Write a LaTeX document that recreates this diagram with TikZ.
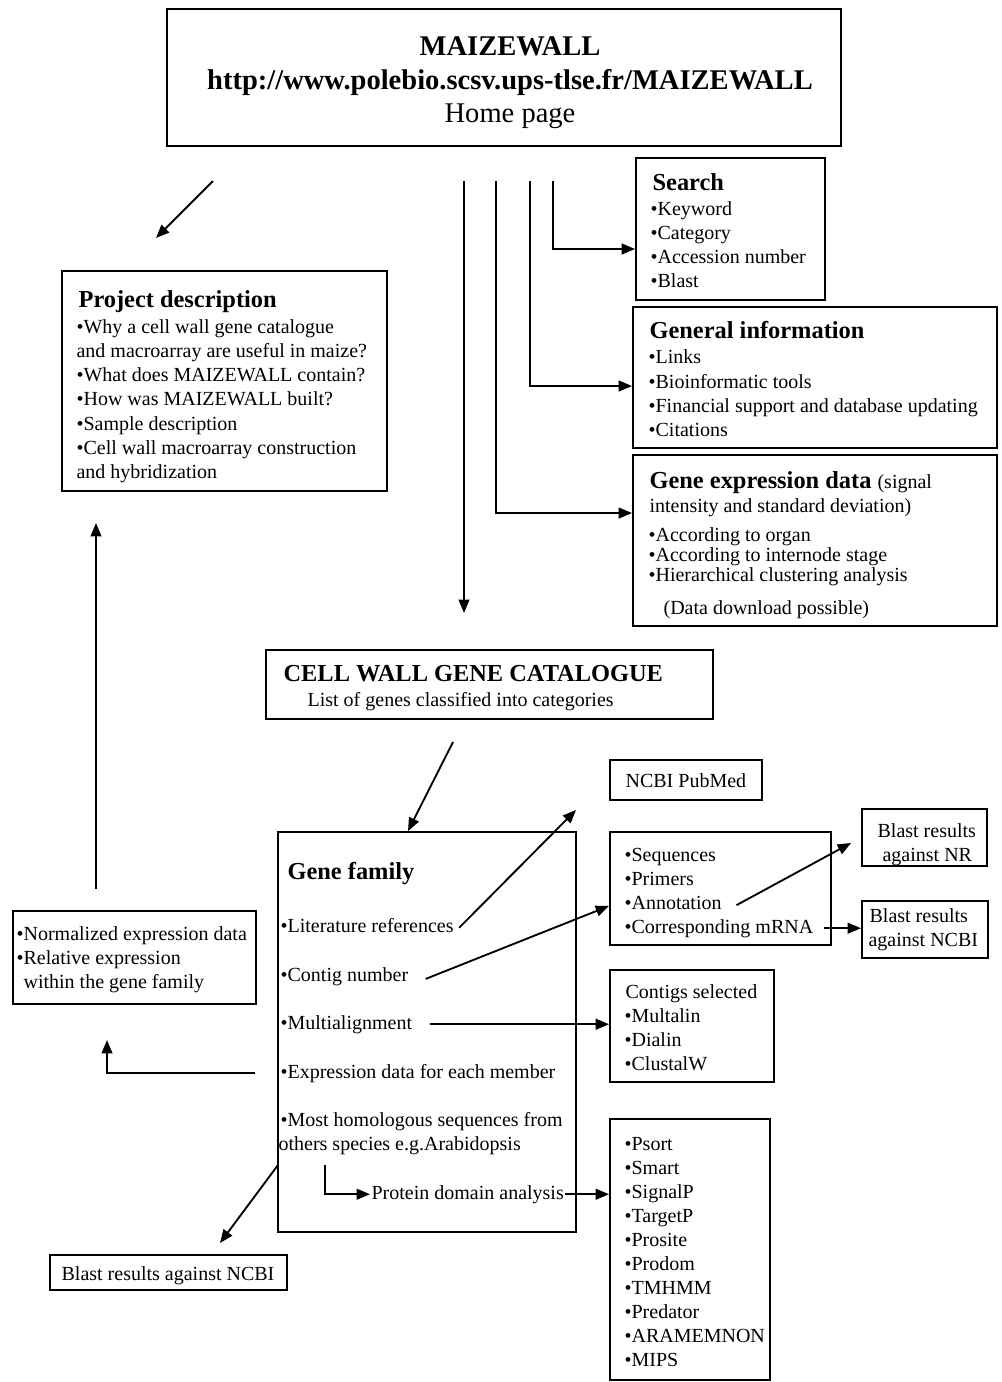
\documentclass[tikz,border=0pt]{standalone}
\usepackage{fontspec}
\setmainfont{Liberation Serif}
\usetikzlibrary{arrows.meta}
\newcommand\mybox[5]{\node[boxst, minimum width={(#4-#2)*0.75pt}, minimum height={(#5-#3)*0.75pt}] (#1) at ({(#2+#4)/2},{(#3+#5)/2}) {};}
\begin{document}
\begin{tikzpicture}[x=0.75pt,y=-0.75pt,
  boxst/.style={draw, line width=1.4pt, inner sep=0pt},
  txt/.style={inner sep=1pt, font=\fontsize{15}{17}\selectfont, anchor=base west},
  hd/.style={inner sep=1pt, font=\fontsize{18.3}{21}\selectfont\bfseries, anchor=base west},
  ttl/.style={inner sep=1pt, font=\fontsize{21.4}{25}\selectfont, anchor=base},
  arr/.style={line width=1.4pt, -{Triangle[length=10pt,width=8pt]}},
  ln/.style={line width=1.4pt}]
\useasboundingbox (0,0) rectangle (1001,1382);
% boxes
\mybox{home}{167}{9}{841}{146}
\mybox{search}{636}{158}{825}{300}
\mybox{geninfo}{633}{307}{997}{448}
\mybox{genexp}{633}{455}{997}{626}
\mybox{projdesc}{62}{271}{387}{491}
\mybox{catal}{266}{650}{713}{719}
\mybox{pubmed}{610}{760}{762}{800}
\mybox{gf}{278}{832}{576}{1232}
\mybox{seqbox}{610}{832}{831}{945}
\mybox{bnr}{862}{809}{987}{866}
\mybox{bncbi}{862}{901}{988}{958}
\mybox{contigs}{610}{970}{774}{1082}
\mybox{psort}{610}{1119}{770}{1380}
\mybox{norm}{13}{911}{256}{1004}
\mybox{bbot}{50}{1255}{287}{1290}
% home text
\node[ttl,font=\fontsize{21.4}{25}\selectfont\bfseries] (t1) at (510,55) {MAIZEWALL};
\node[ttl,font=\fontsize{21.4}{25}\selectfont\bfseries] (t2) at (510,89) {http://www.polebio.scsv.ups-tlse.fr/MAIZEWALL};
\node[ttl] (t3) at (510,122) {Home page};
% search
\node[hd] (srh) at (651,190) {Search};
\node[txt] (s1) at (649,215) {•Keyword};
\node[txt] (s2) at (649,239) {•Category};
\node[txt] (s3) at (649,263) {•Accession number};
\node[txt] (s4) at (649,287) {•Blast};
% general info
\node[hd] (gih) at (648,338) {General information};
\node[txt] (g1) at (647,363) {•Links};
\node[txt] (g2) at (647,388) {•Bioinformatic tools};
\node[txt] (g3) at (647,412) {•Financial support and database updating};
\node[txt] (g4) at (647,436) {•Citations};
% gene expression
\node[hd] (geh) at (648,488) {Gene expression data \fontsize{15}{17}\selectfont\mdseries (signal};
\node[txt] (ge0) at (648,512) {intensity and standard deviation)};
\node[txt, align=left, font=\fontsize{15}{12.75}\selectfont] (ge1) at (647,581) {•According to organ\\•According to internode stage\\•Hierarchical clustering analysis};
\node[txt] (ge4) at (662,614) {(Data download possible)};
% project description
\node[hd] (pdh) at (77,307) {Project description};
\node[txt] (p1) at (75,333) {•Why a cell wall gene catalogue};
\node[txt] (p2) at (75,357) {and macroarray are useful in maize?};
\node[txt] (p3) at (75,381) {•What does MAIZEWALL contain?};
\node[txt] (p4) at (75,405) {•How was MAIZEWALL built?};
\node[txt] (p5) at (75,430) {•Sample description};
\node[txt] (p6) at (75,454) {•Cell wall macroarray construction};
\node[txt] (p7) at (75,478) {and hybridization};
% catalogue
\node[hd] (cah) at (282,681) {CELL WALL GENE CATALOGUE};
\node[txt] (ca1) at (306,706) {List of genes classified into categories};
% pubmed
\node[txt] (pm) at (624,787) {NCBI PubMed};
% gene family
\node[hd] (gfh) at (286,879) {Gene family};
\node[txt] (lit) at (279,932) {•Literature references};
\node[txt] (cont) at (279,981) {•Contig number};
\node[txt] (multi) at (279,1029) {•Multialignment};
\node[txt] (expr) at (279,1078) {•Expression data for each member};
\node[txt] (homo) at (279,1126) {•Most homologous sequences from};
\node[txt] (homo2) at (277,1150) {others species e.g.Arabidopsis};
\node[txt] (pda) at (370,1199) {Protein domain analysis};
% sequences
\node[txt] (q1) at (623,861) {•Sequences};
\node[txt] (q2) at (623,885) {•Primers};
\node[txt] (annot) at (623,909) {•Annotation};
\node[txt] (mrna) at (623,933) {•Corresponding mRNA};
% blast NR
\node[txt] (bn1) at (876,837) {Blast results};
\node[txt] (bn2) at (881,861) {against NR};
% blast NCBI right
\node[txt] (bc1) at (868,922) {Blast results};
\node[txt] (bc2) at (867,946) {against NCBI};
% contigs
\node[txt] (c0) at (624,998) {Contigs selected};
\node[txt] (c1) at (623,1022) {•Multalin};
\node[txt] (c2) at (623,1046) {•Dialin};
\node[txt] (c3) at (623,1070) {•ClustalW};
% psort list
\node[txt] (ps1) at (623,1150) {•Psort};
\node[txt] (ps2) at (623,1174) {•Smart};
\node[txt] (ps3) at (623,1198) {•SignalP};
\node[txt] (ps4) at (623,1222) {•TargetP};
\node[txt] (ps5) at (623,1246) {•Prosite};
\node[txt] (ps6) at (623,1270) {•Prodom};
\node[txt] (ps7) at (623,1294) {•TMHMM};
\node[txt] (ps8) at (623,1318) {•Predator};
\node[txt] (ps9) at (623,1342) {•ARAMEMNON};
\node[txt] (ps10) at (623,1366) {•MIPS};
% normalized
\node[txt] (n1) at (15,940) {•Normalized expression data};
\node[txt] (n2) at (15,964) {•Relative expression};
\node[txt] (n3) at (22,988) {within the gene family};
% blast bottom
\node[txt] (bb) at (60,1280) {Blast results against NCBI};
% free-end coordinates
\coordinate (a0) at (213,181);
\coordinate (a0e) at (156,238);
\coordinate (v1) at (464,181);
\coordinate (v1e) at (464,613);
\coordinate (v2) at (496,181);
\coordinate (v3) at (530,181);
\coordinate (v4) at (553,181);
\coordinate (ce) at (453,742);
\coordinate (pme) at (576,810);
\coordinate (nre) at (851,843);
\coordinate (up0) at (96,889);
\coordinate (up1) at (96,523);
\coordinate (ex0) at (255,1073);
\coordinate (ex1) at (107,1040);
\coordinate (bl0) at (278,1165);
\coordinate (bl1) at (220,1243);
\coordinate (hb) at (325,1165);
% connectors
\draw[arr] (a0) -- (a0e);
\draw[arr] (v1) -- (v1e);
\draw[arr] (v2) |- ([yshift=20.6pt]genexp.west);
\draw[arr] (v3) |- ([yshift=-6.4pt]geninfo.west);
\draw[arr] (v4) |- ([yshift=-15pt]search.west);
\draw[arr] (ce) -- ([xshift=-14.25pt]gf.north);
\draw[arr] ([xshift=3pt,yshift=-2pt]lit.east) -- (pme);
\draw[arr] ([xshift=12pt,yshift=-2pt]cont.east) -- ([yshift=-13.1pt]seqbox.west);
\draw[arr] ([xshift=12pt]multi.east) -- (multi.east -| contigs.west);
\draw[arr] (ex0) -| (ex1);
\draw[arr] (up0) -- (up1);
\draw[arr] (bl0) -- (bl1);
\draw[arr] (hb) |- (pda.west);
\draw[arr] (pda.east) -- (pda.east -| psort.west);
\draw[arr] ([xshift=10pt,yshift=-2pt]annot.east) -- (nre);
\draw[arr] ([xshift=7pt]mrna.east) -- (mrna.east -| bncbi.west);
\end{tikzpicture}
\end{document}
